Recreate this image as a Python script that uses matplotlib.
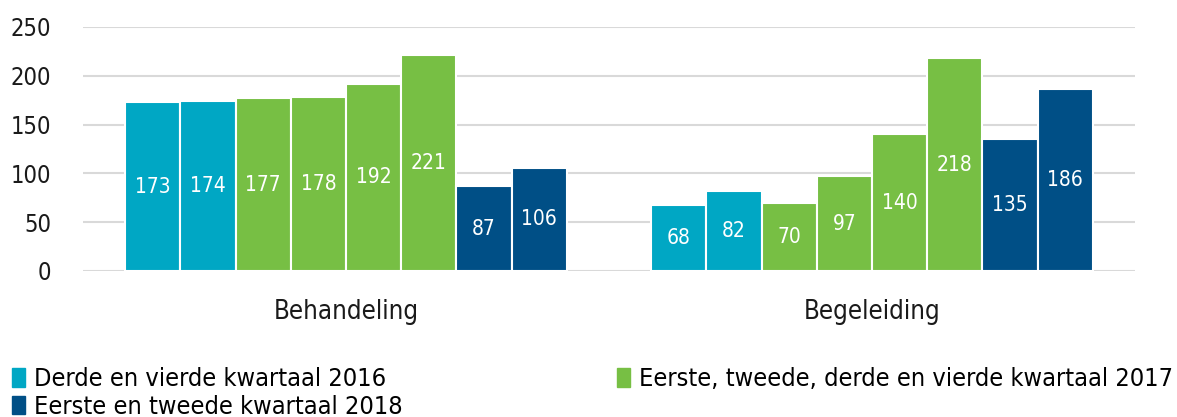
import matplotlib.pyplot as plt
import numpy as np
from matplotlib.patches import Patch
from matplotlib import font_manager

# --- DATA ---
categories = ["Behandeling", "Begeleiding"]
behandeling = [173, 174, 177, 178, 192, 221, 87, 106]
begeleiding = [68, 82, 70, 97, 140, 218, 135, 186]
period_of_bar = [0, 0, 1, 1, 1, 1, 2, 2]
periods = ["Derde en vierde kwartaal 2016",
           "Eerste, tweede, derde en vierde kwartaal 2017",
           "Eerste en tweede kwartaal 2018"]
yticks = [0, 50, 100, 150, 200, 250]

# --- STYLE ---
colors = ["#00A7C4", "#77BF44", "#004F86"]
names = {f.name for f in font_manager.fontManager.ttflist}
if "DejaVu Sans Condensed" in names:
    plt.rcParams['font.family'] = ['DejaVu Sans Condensed', 'DejaVu Sans']
else:
    plt.rcParams['font.family'] = ['DejaVu Sans']
    plt.rcParams['font.stretch'] = 'condensed'

fig = plt.figure(figsize=(11.77, 4.17), dpi=100)
ax = fig.add_axes([83 / 1177, 1 - 271 / 417, (1135 - 83) / 1177, (271 - 27) / 417])

x = np.arange(len(categories))
n = len(behandeling)
group_w = 0.84
w = group_w / n

for i in range(n):
    vals = [behandeling[i], begeleiding[i]]
    pos = x - group_w / 2 + w * (i + 0.5)
    bars = ax.bar(pos, vals, width=w, color=colors[period_of_bar[i]],
                  edgecolor="white", linewidth=1.5, zorder=3)
    for b, v in zip(bars, vals):
        ax.text(b.get_x() + b.get_width() / 2, v / 2, str(v), ha="center",
                va="center", color="white", fontsize=15, zorder=4)

ax.set_xlim(-0.5, 1.5)
ax.set_ylim(0, 250)
ax.set_yticks(yticks)
ax.set_xticks(x)
ax.set_xticklabels(categories, fontsize=18.5)
ax.tick_params(axis="y", labelsize=17, length=0, pad=23, colors="#1a1a1a")
ax.tick_params(axis="x", length=0, pad=20, colors="#1a1a1a")
ax.grid(axis="y", color="#D9D9D9", linewidth=1.5, zorder=0)
for s in ax.spines.values():
    s.set_visible(False)

handles = [Patch(color=colors[0], label=periods[0]),
           Patch(color=colors[2], label=periods[2]),
           Patch(color=colors[1], label=periods[1])]
fig.legend(handles=handles, ncol=2, loc="upper left",
           bbox_to_anchor=(0.002, 1 - 357 / 417), frameon=False, fontsize=18.2,
           handlelength=0.5, handleheight=0.75, handletextpad=0.35,
           columnspacing=8.5, labelspacing=0.15, borderaxespad=0)

fig.savefig("out.png", dpi=100)
